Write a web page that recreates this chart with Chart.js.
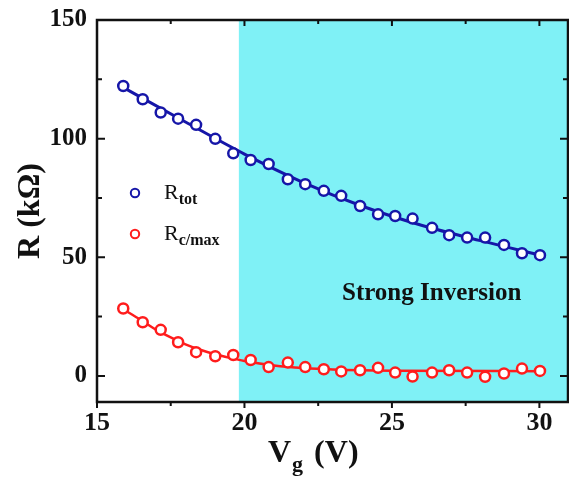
<!DOCTYPE html>
<html>
<head>
<meta charset="utf-8">
<script src="https://cdn.jsdelivr.net/npm/chart.js"></script>
<style>
  html, body { margin: 0; padding: 0; background: #fff; }
  canvas { display: block; }
</style>
</head>
<body>
<canvas id="myChart" width="569" height="480"></canvas>
<script>
// gate voltage of each measured point (V)
const vg = [15.89, 16.55, 17.16, 17.75, 18.36, 19.01, 19.62, 20.21, 20.82, 21.47, 22.06, 22.69,
            23.28, 23.92, 24.53, 25.11, 25.70, 26.36, 26.94, 27.55, 28.16, 28.80, 29.41, 30.02];
// total resistance (kOhm)
const rTot = [122.2, 116.6, 111.0, 108.4, 105.8, 99.9, 93.8, 91.0, 89.3, 82.9, 80.8, 78.0,
              75.9, 71.6, 68.1, 67.4, 66.3, 62.4, 59.3, 58.3, 58.3, 55.2, 51.7, 50.9];
// contact resistance / max (kOhm)
const rCmax = [28.4, 22.6, 19.4, 14.2, 10.0, 8.3, 8.8, 6.7, 3.7, 5.6, 3.7, 2.8,
               1.9, 2.4, 3.4, 1.4, -0.3, 1.4, 2.4, 1.4, -0.4, 1.0, 3.1, 2.1];

// fitted curves
const fitTotX = [15.9, 18, 20, 22, 24, 26, 28, 30];
const fitTotY = [121.5, 107, 93.5, 81.5, 71.5, 63.5, 57, 51];
const fitCX = [15.9, 16.5, 17, 17.5, 18, 18.5, 19, 19.5, 20, 21, 22, 23, 25, 30];
const fitCY = [28, 23.5, 19.5, 16.2, 13.3, 11, 9.1, 7.6, 6.3, 4.4, 3.3, 2.7, 2.2, 2.0];

const xTicks = [15, 20, 25, 30];
const yTicks = [0, 50, 100, 150];
const xMinor = [17.5, 22.5, 27.5];
const yMinor = [25, 75, 125];
const inversionStart = 19.81;

const BLUE = '#1616a8';
const RED = '#ff1c1c';
const CYAN = '#7ff1f6';
const SERIF = '"Liberation Serif", "Times New Roman", serif';

const pts = (xs, ys) => xs.map((x, i) => ({ x: x, y: ys[i] }));

// no extra room for overhanging tick labels
const noPad = s => { s.paddingLeft = 0; s.paddingRight = 0; s.paddingTop = 0; s.paddingBottom = 0; };

// cyan background, frame with ticks, titles and legend
const decor = {
  id: 'decor',
  beforeDatasetsDraw(chart) {
    const { ctx, chartArea: a, scales: { x } } = chart;
    ctx.save();
    ctx.fillStyle = CYAN;
    const x0 = x.getPixelForValue(inversionStart);
    ctx.fillRect(x0, a.top, a.right - x0, a.bottom - a.top);
    ctx.restore();
  },
  afterDraw(chart) {
    const { ctx, chartArea: a, scales: { x, y } } = chart;
    ctx.save();
    ctx.strokeStyle = '#111';
    ctx.lineWidth = 2.5;
    ctx.strokeRect(a.left, a.top, a.right - a.left, a.bottom - a.top);

    ctx.lineWidth = 2;
    ctx.beginPath();
    xTicks.concat(xMinor).forEach(v => {
      const px = x.getPixelForValue(v);
      const len = xTicks.includes(v) ? 6 : 4;
      ctx.moveTo(px, a.bottom); ctx.lineTo(px, a.bottom + len);
      ctx.moveTo(px, a.top); ctx.lineTo(px, a.top + len);
    });
    yTicks.concat(yMinor).forEach(v => {
      const py = y.getPixelForValue(v);
      const len = yTicks.includes(v) ? 8 : 5;
      ctx.moveTo(a.left, py); ctx.lineTo(a.left + len, py);
      ctx.moveTo(a.right, py); ctx.lineTo(a.right - len, py);
    });
    ctx.stroke();

    ctx.fillStyle = '#111';
    ctx.textBaseline = 'alphabetic';
    // x title: V_g (V)
    ctx.font = 'bold 32px ' + SERIF;
    ctx.textAlign = 'left';
    let tx = 268, ty = 462;
    ctx.fillText('V', tx, ty);
    tx += ctx.measureText('V').width;
    ctx.font = 'bold 22px ' + SERIF;
    ctx.fillText('g', tx + 1, ty + 9);
    tx += ctx.measureText('g').width + 4;
    ctx.font = 'bold 32px ' + SERIF;
    ctx.fillText(' (V)', tx, ty);

    // y title: R (kΩ)
    ctx.save();
    ctx.translate(39, 211);
    ctx.rotate(-Math.PI / 2);
    ctx.textAlign = 'center';
    ctx.font = 'bold 32px ' + SERIF;
    ctx.fillText('R (kΩ)', 0, 0);
    ctx.restore();

    // Strong Inversion label
    ctx.font = 'bold 25px ' + SERIF;
    ctx.textAlign = 'left';
    ctx.fillText('Strong Inversion', 342, 300);

    // legend
    const items = [
      { color: BLUE, sub: 'tot', cy: 193, base: 199 },
      { color: RED, sub: 'c/max', cy: 234, base: 240 }
    ];
    items.forEach(it => {
      ctx.beginPath();
      ctx.arc(135, it.cy, 4.2, 0, Math.PI * 2);
      ctx.fillStyle = '#fff';
      ctx.fill();
      ctx.lineWidth = 2;
      ctx.strokeStyle = it.color;
      ctx.stroke();
      ctx.fillStyle = '#111';
      ctx.font = '22px ' + SERIF;
      ctx.fillText('R', 164, it.base);
      const w = ctx.measureText('R').width;
      ctx.font = 'bold 16px ' + SERIF;
      ctx.fillText(it.sub, 164 + w, it.base + 5);
    });
    ctx.restore();
  }
};

const tickFont = { family: SERIF, weight: 'bold' };

new Chart(document.getElementById('myChart'), {
  type: 'scatter',
  data: {
    datasets: [
      {
        label: 'Rtot',
        data: pts(vg, rTot),
        pointRadius: 5,
        pointBorderWidth: 2.5,
        pointBackgroundColor: '#fff',
        pointBorderColor: BLUE,
        order: 0
      },
      {
        label: 'Rc/max',
        data: pts(vg, rCmax),
        pointRadius: 5,
        pointBorderWidth: 2.5,
        pointBackgroundColor: '#fff',
        pointBorderColor: RED,
        order: 0
      },
      {
        label: 'fit tot',
        data: pts(fitTotX, fitTotY),
        showLine: true,
        pointRadius: 0,
        borderColor: BLUE,
        borderWidth: 3,
        cubicInterpolationMode: 'monotone',
        order: 1
      },
      {
        label: 'fit c',
        data: pts(fitCX, fitCY),
        showLine: true,
        pointRadius: 0,
        borderColor: RED,
        borderWidth: 2.5,
        cubicInterpolationMode: 'monotone',
        order: 1
      }
    ]
  },
  options: {
    responsive: false,
    animation: false,
    devicePixelRatio: 1,
    layout: { autoPadding: false, padding: { top: 20, right: 1, left: 0, bottom: 0 } },
    plugins: { legend: { display: false }, tooltip: { enabled: false } },
    scales: {
      x: {
        type: 'linear',
        min: 15,
        max: 30.97,
        afterBuildTicks: s => { s.ticks = xTicks.map(v => ({ value: v })); },
        afterFit: s => { s.height = 78; noPad(s); },
        grid: { display: false, drawTicks: false },
        border: { display: false },
        ticks: { font: { ...tickFont, size: 26 }, color: '#111', padding: 6 }
      },
      y: {
        type: 'linear',
        min: -11,
        max: 150,
        afterBuildTicks: s => { s.ticks = yTicks.map(v => ({ value: v })); },
        afterFit: s => { s.width = 97; noPad(s); },
        grid: { display: false, drawTicks: false },
        border: { display: false },
        ticks: { font: { ...tickFont, size: 25 }, color: '#111', padding: 10 }
      }
    }
  },
  plugins: [decor]
});
</script>
</body>
</html>
